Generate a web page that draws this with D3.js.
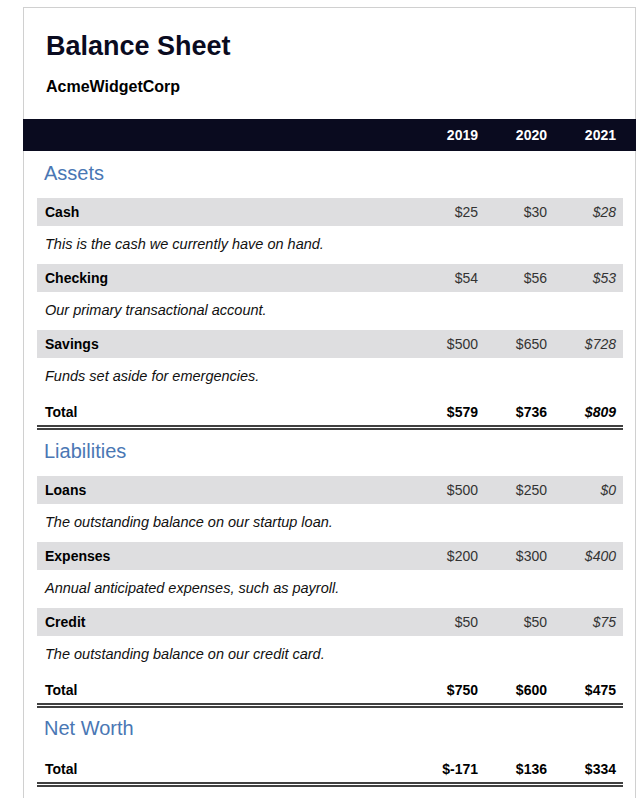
<!DOCTYPE html>
<html>
<head>
<meta charset="utf-8">
<script src="https://cdn.jsdelivr.net/npm/d3@7"></script>
<style>
  body { margin: 0; background: #fff; }
  svg text { font-family: "Liberation Sans", Arial, sans-serif; }
</style>
</head>
<body>
<svg id="chart" width="644" height="798"></svg>
<script>
const years = ['2019', '2020', '2021'];
const assetNames = ['Cash', 'Checking', 'Savings'];
const assetNotes = ['This is the cash we currently have on hand.', 'Our primary transactional account.', 'Funds set aside for emergencies.'];
const assetValues = [[25, 30, 28], [54, 56, 53], [500, 650, 728]];
const assetTotals = [579, 736, 809];
const liabilityNames = ['Loans', 'Expenses', 'Credit'];
const liabilityNotes = ['The outstanding balance on our startup loan.', 'Annual anticipated expenses, such as payroll.', 'The outstanding balance on our credit card.'];
const liabilityValues = [[500, 250, 0], [200, 300, 400], [50, 50, 75]];
const liabilityTotals = [750, 600, 475];
const netWorthTotals = [-171, 136, 334];

const navy = '#0a0b1f';
const blue = '#4a77b4';
const grey = '#dedee0';

const svg = d3.select('#chart');
// right edge of each year column
const x = d3.scalePoint().domain(years).range([478, 616]);
const fmt = d => '$' + d;

svg.append('rect').attr('x', 23.5).attr('y', 7.5).attr('width', 612).attr('height', 800)
  .attr('fill', 'none').attr('stroke', '#d0d0d0');

svg.append('text').attr('x', 46).attr('y', 55).text('Balance Sheet')
  .attr('font-size', 27).attr('font-weight', 'bold').attr('fill', navy);
svg.append('text').attr('x', 46).attr('y', 92).text('AcmeWidgetCorp')
  .attr('font-size', 16).attr('font-weight', 'bold').attr('fill', '#000');

svg.append('rect').attr('x', 23).attr('y', 119).attr('width', 613).attr('height', 32).attr('fill', navy);
svg.selectAll('.yr').data(years).join('text')
  .attr('x', d => x(d)).attr('y', 140).attr('text-anchor', 'end')
  .attr('font-size', 14).attr('font-weight', 'bold').attr('fill', '#fff').text(d => d);

function values(g, vals, y, bold, italicLast) {
  g.selectAll(null).data(vals).join('text')
    .attr('x', (d, i) => x(years[i])).attr('y', y).attr('text-anchor', 'end')
    .attr('font-size', 14).attr('font-weight', bold ? 'bold' : 'normal')
    .attr('font-style', (d, i) => italicLast && i === 2 ? 'italic' : 'normal')
    .attr('fill', bold ? '#000' : '#333').text(fmt);
}

function section(title, top, names, notes, vals, totals, italicTotal) {
  const g = svg.append('g');
  g.append('text').attr('x', 44).attr('y', top + 29).text(title)
    .attr('font-size', 20).attr('fill', blue);
  let y = top + 47;
  names.forEach((n, i) => {
    g.append('rect').attr('x', 37).attr('y', y).attr('width', 586).attr('height', 28).attr('fill', grey);
    g.append('text').attr('x', 45).attr('y', y + 19).text(n)
      .attr('font-size', 14).attr('font-weight', 'bold').attr('fill', '#000');
    values(g, vals[i], y + 19, false, true);
    g.append('text').attr('x', 45).attr('y', y + 51).text(notes[i])
      .attr('font-size', 14.5).attr('font-style', 'italic').attr('fill', '#111');
    y += 66;
  });
  totalRow(g, y + 21, totals, italicTotal);
  return y + 40;
}

function totalRow(g, y, totals, italic) {
  g.append('text').attr('x', 45).attr('y', y).text('Total')
    .attr('font-size', 14).attr('font-weight', 'bold').attr('fill', '#000');
  values(g, totals, y, true, italic);
  [y + 9, y + 12].forEach(ly => g.append('line')
    .attr('x1', 37).attr('x2', 623).attr('y1', ly).attr('y2', ly)
    .attr('stroke', '#000').attr('stroke-width', 1.3));
}

let next = section('Assets', 151, assetNames, assetNotes, assetValues, assetTotals, true);
next = section('Liabilities', next - 7, liabilityNames, liabilityNotes, liabilityValues, liabilityTotals, false);
const ng = svg.append('g');
ng.append('text').attr('x', 44).attr('y', next + 21).text('Net Worth')
  .attr('font-size', 20).attr('fill', blue);
totalRow(ng, next + 60, netWorthTotals, false);
</script>
</body>
</html>
